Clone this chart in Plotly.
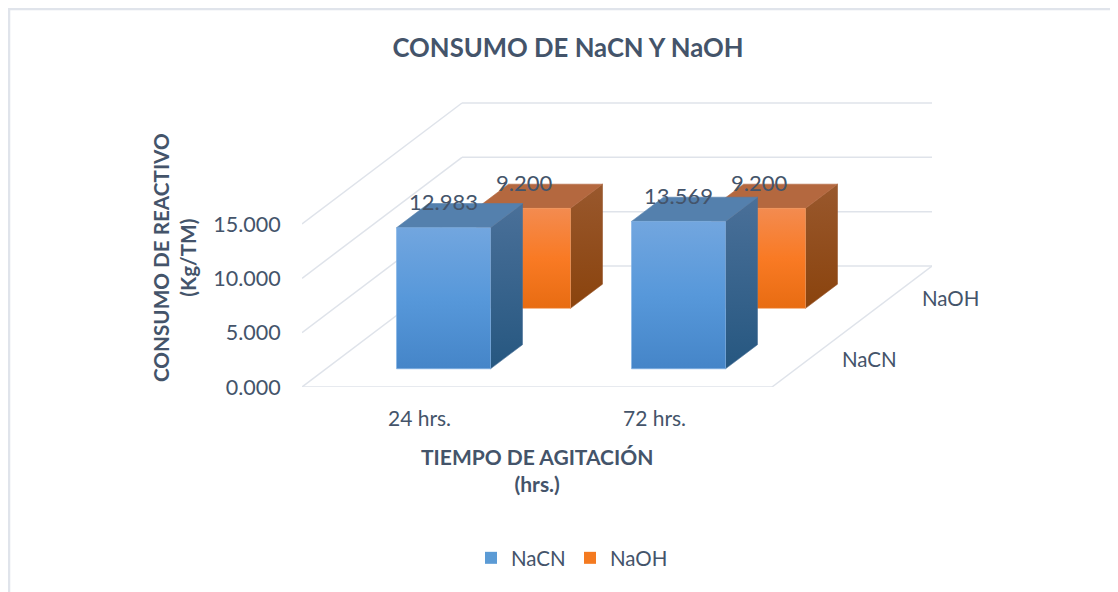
import plotly.graph_objects as go

categories = ["24 hrs.", "72 hrs."]
series_names = ["NaCN", "NaOH"]
nacn_values = [12.983, 13.569]
naoh_values = [9.2, 9.2]
y_ticks = [0, 5, 10, 15]

TEXT = "#44546A"
GRID = "#DFE3EA"
FONT = "Lato"
PAGE_W, PAGE_H = 1118, 592
OFF = 8  # default page margin in front of the figure
L, R, T, B = 302, 932, 102, 387
PX_X = 235.0
PX_Y = 10.867
DX, DY = 80 / PX_X, 60.5 / PX_Y   # shift per depth row, in axis units
BAR_W, BAR_D = 0.4, 0.4

STYLE = {
    "NaCN": dict(front=[[0, "#4585C8"], [0.5, "#5798DA"], [1, "#72A6DF"]],
                 side=[[0, "#265780"], [1, "#4A7099"]],
                 top=[[0, "#5480AD"], [1, "#5480AD"]], edge="#7FB2E5", swatch="#5B9BD5"),
    "NaOH": dict(front=[[0, "#E86C12"], [0.5, "#F97A24"], [1, "#F38B50"]],
                 side=[[0, "#8A430D"], [1, "#99582D"]],
                 top=[[0, "#B4683F"], [1, "#B4683F"]], edge="#F49A5E", swatch="#F47A20"),
}


def proj(u, v, w):
    return u + DX * w, v + DY * w


def poly(pts, scale, edge, name):
    xs, ys = zip(*[proj(*p) for p in pts + pts[:1]])
    return go.Scatter(x=list(xs), y=list(ys), mode="lines", fill="toself",
                      line=dict(color=edge, width=0.6), hoverinfo="skip", showlegend=False,
                      fillgradient=dict(type="vertical", colorscale=scale), name=name)


def wire(p, q):
    xs, ys = zip(proj(*p), proj(*q))
    return go.Scatter(x=list(xs), y=list(ys), mode="lines", line=dict(color=GRID, width=1.5),
                      hoverinfo="skip", showlegend=False, cliponaxis=False)


fig = go.Figure()
n_cat, n_row = len(categories), len(series_names)

# walls and floor
for v in y_ticks:
    fig.add_trace(wire((0, v, 0), (0, v, n_row)))
    fig.add_trace(wire((0, v, n_row), (n_cat, v, n_row)))
fig.add_trace(wire((0, 0, 0), (n_cat, 0, 0)))
fig.add_trace(wire((n_cat, 0, 0), (n_cat, 0, n_row)))

# bars, back row first
rows = [("NaOH", naoh_values, 1), ("NaCN", nacn_values, 0)]
annotations = []
for name, vals, row in rows:
    s = STYLE[name]
    for i, val in enumerate(vals):
        u0, u1 = i + 0.5 - BAR_W / 2, i + 0.5 + BAR_W / 2
        w0, w1 = row + 0.5 - BAR_D / 2, row + 0.5 + BAR_D / 2
        fig.add_trace(poly([(u1, 0, w0), (u1, 0, w1), (u1, val, w1), (u1, val, w0)], s["side"], s["side"][1][1], name))
        fig.add_trace(poly([(u0, val, w0), (u1, val, w0), (u1, val, w1), (u0, val, w1)], s["top"], s["top"][0][1], name))
        fig.add_trace(poly([(u0, 0, w0), (u1, 0, w0), (u1, val, w0), (u0, val, w0)], s["front"], s["edge"], name))
        x, y = proj(i + 0.5, val, w0)
        annotations.append(dict(x=x, y=y, text=f"{val:.3f}", showarrow=False, xanchor="center", yanchor="middle",
                                yshift=26, font=dict(family=FONT, size=22, color=TEXT)))

# legend entries
for name in series_names:
    fig.add_trace(go.Scatter(x=[None], y=[None], mode="markers", name=name,
                             marker=dict(symbol="square", size=12, color=STYLE[name]["swatch"])))


def px(x):
    return (x - L) / (R - L)


def py(y):
    return (B - y) / (B - T)


annotations += [
    dict(x=px(175), y=py(258), xref="paper", yref="paper", text="<b>CONSUMO DE REACTIVO<br>(Kg/TM)</b>",
         textangle=-90, showarrow=False, xanchor="center", yanchor="middle",
         font=dict(family=FONT, size=20.7, color=TEXT)),
    dict(x=px(537), y=py(470), xref="paper", yref="paper", text="<b>TIEMPO DE AGITACIÓN<br>(hrs.)</b>",
         showarrow=False, xanchor="center", yanchor="middle", font=dict(family=FONT, size=21, color=TEXT)),
]
for r, name in enumerate(series_names):
    x, y = proj(n_cat, 0, r + 0.5)
    annotations.append(dict(x=x, y=y, text=name, showarrow=False, xanchor="left", yanchor="middle", xshift=28, yshift=-2,
                            font=dict(family=FONT, size=20.5, color=TEXT)))

shapes = [
    dict(type="line", xref="paper", yref="paper", x0=px(9), x1=px(1118), y0=py(9), y1=py(9),
         line=dict(color="#E0E4EB", width=2.5)),
    dict(type="line", xref="paper", yref="paper", x0=px(9), x1=px(9), y0=py(8), y1=py(592),
         line=dict(color="#E0E4EB", width=2.5)),
]

fig.update_layout(
    width=PAGE_W - OFF, height=PAGE_H - OFF, autosize=False,
    margin=dict(l=L - OFF, r=PAGE_W - R, t=T - OFF, b=PAGE_H - B, pad=0),
    paper_bgcolor="white", plot_bgcolor="white",
    title=dict(text="<b>CONSUMO DE NaCN Y NaOH</b>", x=(568 - OFF) / (PAGE_W - OFF), xanchor="center",
               y=1 - (48 - OFF) / (PAGE_H - OFF), yanchor="middle",
               font=dict(family=FONT, size=25.7, color=TEXT)),
    xaxis=dict(range=[0, (R - L) / PX_X], tickvals=[i + 0.5 for i in range(n_cat)], ticktext=categories,
               showgrid=False, zeroline=False, showline=False, ticks="outside", ticklen=13,
               tickcolor="rgba(0,0,0,0)", tickfont=dict(family=FONT, size=21, color=TEXT)),
    yaxis=dict(range=[0, (B - T) / PX_Y], tickvals=y_ticks, tickformat=".3f",
               showgrid=False, zeroline=False, showline=False, ticks="outside", ticklen=16,
               tickcolor="rgba(0,0,0,0)", tickfont=dict(family=FONT, size=21.5, color=TEXT)),
    legend=dict(orientation="h", x=px(471), xanchor="left", y=py(558), yanchor="middle",
                entrywidth=54, entrywidthmode="pixels",
                font=dict(family=FONT, size=20.5, color=TEXT), bgcolor="rgba(0,0,0,0)"),
    annotations=annotations, shapes=shapes,
)
fig.write_html("out.html", config={"displayModeBar": False})
